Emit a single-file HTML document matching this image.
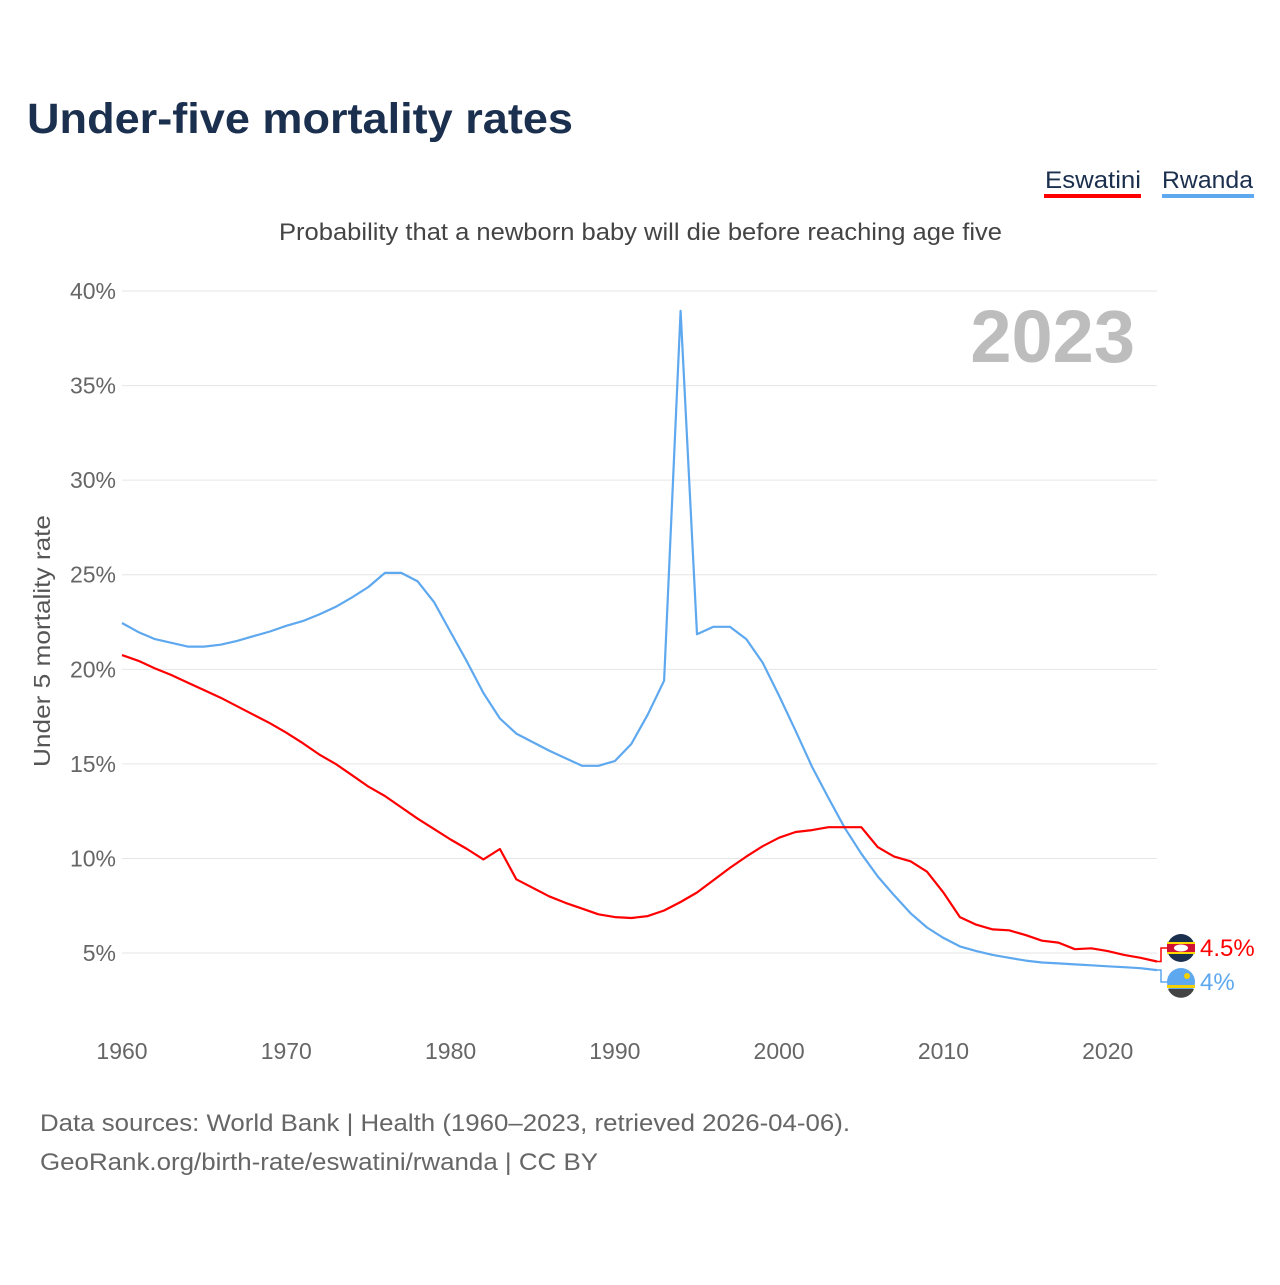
<!DOCTYPE html>
<html><head><meta charset="utf-8"><style>
body{margin:0;background:#fff;font-family:"Liberation Sans",sans-serif;}
svg text{font-family:"Liberation Sans",sans-serif;}
</style></head><body>
<svg id="chart" width="1280" height="1280" xmlns="http://www.w3.org/2000/svg">
<text x="27" y="133" font-size="43" font-weight="bold" fill="#1b2f4e" textLength="546" lengthAdjust="spacingAndGlyphs">Under-five mortality rates</text>
<g>
<text x="1045" y="188" font-size="24" fill="#1b2f4e" textLength="96" lengthAdjust="spacingAndGlyphs">Eswatini</text>
<rect x="1044" y="194" width="97" height="4" fill="#ff0000"/>
<text x="1162" y="188" font-size="24" fill="#1b2f4e" textLength="91" lengthAdjust="spacingAndGlyphs">Rwanda</text>
<rect x="1162" y="194" width="92" height="4" fill="#5ea8ef"/>
</g>
<text x="279" y="240" font-size="24" fill="#444" textLength="723" lengthAdjust="spacingAndGlyphs">Probability that a newborn baby will die before reaching age five</text>
<text x="1135" y="362" font-size="74" font-weight="bold" fill="#bdbdbd" text-anchor="end">2023</text>
<text transform="translate(50,767) rotate(-90)" font-size="23" fill="#555" textLength="252" lengthAdjust="spacingAndGlyphs">Under 5 mortality rate</text>
<g id="grid"></g><g id="lines"></g><g id="ends"></g>
<text x="40" y="1131" font-size="24" fill="#666" textLength="810" lengthAdjust="spacingAndGlyphs">Data sources: World Bank | Health (1960–2023, retrieved 2026-04-06).</text>
<text x="40" y="1170" font-size="24" fill="#666" textLength="558" lengthAdjust="spacingAndGlyphs">GeoRank.org/birth-rate/eswatini/rwanda | CC BY</text>
</svg>
<script>
const years=[];for(let y=1960;y<=2023;y++)years.push(y);
const rwanda=[22.45,21.97,21.6,21.4,21.2,21.2,21.3,21.5,21.75,22.0,22.3,22.55,22.9,23.3,23.8,24.35,25.1,25.1,24.65,23.55,21.97,20.4,18.75,17.4,16.6,16.15,15.7,15.3,14.9,14.9,15.15,16.05,17.6,19.4,38.95,21.85,22.25,22.25,21.6,20.35,18.6,16.75,14.85,13.2,11.6,10.25,9.05,8.05,7.1,6.35,5.8,5.35,5.1,4.9,4.75,4.6,4.5,4.45,4.4,4.35,4.3,4.25,4.2,4.1];
const eswatini=[20.75,20.45,20.05,19.7,19.3,18.9,18.5,18.05,17.6,17.15,16.65,16.1,15.5,15.0,14.4,13.8,13.3,12.7,12.1,11.55,11.0,10.5,9.95,10.5,8.9,8.45,8.0,7.65,7.35,7.05,6.9,6.85,6.95,7.25,7.7,8.2,8.85,9.5,10.1,10.65,11.1,11.4,11.5,11.65,11.65,11.65,10.6,10.1,9.85,9.3,8.2,6.9,6.5,6.25,6.2,5.95,5.65,5.55,5.2,5.25,5.1,4.9,4.75,4.55];
const yTicks=[5,10,15,20,25,30,35,40];
const xTicks=[1960,1970,1980,1990,2000,2010,2020];
const NS="http://www.w3.org/2000/svg";
const X=v=>122+(v-1960)*(1157-122)/63;
const Y=v=>1047.6-v*(953-291)/35;
function el(t,a,p){const e=document.createElementNS(NS,t);for(const k in a)e.setAttribute(k,a[k]);p.appendChild(e);return e;}
const grid=document.getElementById('grid');
yTicks.forEach(t=>{
 const l=el('line',{x1:122,x2:1157,y1:Y(t),y2:Y(t),stroke:'#e6e6e6','stroke-width':1},grid);
 
 
 const tx=el('text',{x:116,y:Y(t)+8,'font-size':23,fill:'#666','text-anchor':'end'},grid);tx.textContent=t+'%';
 
 
});
xTicks.forEach(t=>{
 const tx=el('text',{x:X(t),y:1059,'font-size':23,fill:'#666','text-anchor':'middle'},grid);tx.textContent=t;
 
 
});
const lines=document.getElementById('lines');
function line(d,c,n){const p=el('path',{d:d.map((v,i)=>(i?'L':'M')+X(years[i]).toFixed(1)+','+Y(v).toFixed(1)).join(''),fill:'none',stroke:c,'stroke-width':2.2,'stroke-linejoin':'round'},lines);
 
 }
line(rwanda,'#5ea8ef','rwanda');line(eswatini,'#ff0000','eswatini');
const ends=document.getElementById('ends');
function end(v,c,n,ly,label,flag){
 const ex=X(2023),ey=Y(v);
 const c1=el('path',{d:`M${ex},${ey}H${ex+4}V${ly}H${ex+10}`,fill:'none',stroke:c,'stroke-width':1.5},ends);
 
 const g=el('g',{},ends);
 flag(g,ex+24,ly);
 const t=el('text',{x:ex+43,y:ly+8,'font-size':24,fill:c},ends);t.textContent=label;
 
}
end(eswatini[63],'#ff0000','eswatini',948,'4.5%',(g,cx,cy)=>{
 el('circle',{cx,cy,r:14,fill:'#1b2f4e'},g);
 el('rect',{x:cx-14,y:cy-5,width:28,height:10,fill:'#d21034'},g);
 el('rect',{x:cx-14,y:cy-6,width:28,height:2,fill:'#ffd900'},g);
 el('rect',{x:cx-14,y:cy+4,width:28,height:2,fill:'#ffd900'},g);
 el('ellipse',{cx,cy,rx:7,ry:3.5,fill:'#fff'},g);});
end(rwanda[63],'#5ea8ef','rwanda',982,'4%',(g,cx,cy)=>{
 el('circle',{cx,cy,r:14,fill:'#5ea8ef'},g);
 el('path',{d:`M${cx-14},${cy+3}H${cx+14}V${cy+6}H${cx-14}Z`,fill:'#f5d000'},g);
 el('path',{d:`M${cx-13},${cy+7}H${cx+13}A14,14 0 0 1 ${cx-13},${cy+7}Z`,fill:'#444'},g);
 el('circle',{cx:cx+6,cy:cy-6,r:3,fill:'#f5d000'},g);});
</script>
</body></html>
